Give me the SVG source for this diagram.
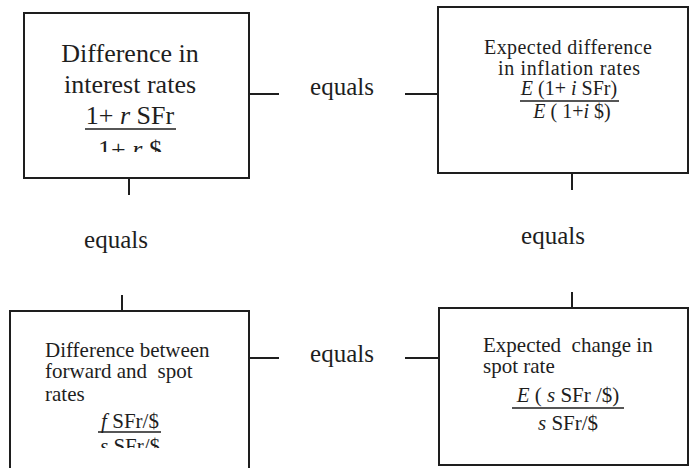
<svg xmlns="http://www.w3.org/2000/svg" width="692" height="468" viewBox="0 0 692 468">
<style>
  .box { fill: #ffffff; stroke: #1e1e1e; stroke-width: 2; }
  .ln { stroke: #1e1e1e; stroke-width: 2; fill: none; }
  .ul { stroke: #1e1e1e; stroke-width: 1.6; }
  text { font-family: "Liberation Serif", "Times New Roman", serif; fill: #1e1e1e; }
  .big { font-size: 26px; }
  .med { font-size: 21px; }
  .sm { font-size: 20px; }
  .eq { font-size: 25px; }
  .c { text-anchor: middle; }
  .it { font-style: italic; }
</style>
<defs>
  <clipPath id="clipTL"><rect x="0" y="0" width="260" height="152"/></clipPath>
  <clipPath id="clipBL"><rect x="0" y="300" width="260" height="148"/></clipPath>
</defs>
<rect width="692" height="468" fill="#ffffff"/>

<g id="connectors">
  <line class="ln" x1="249" y1="94" x2="279" y2="94"/>
  <line class="ln" x1="405" y1="94" x2="438" y2="94"/>
  <line class="ln" x1="129" y1="178" x2="129" y2="195"/>
  <line class="ln" x1="572" y1="173" x2="572" y2="190"/>
  <line class="ln" x1="122" y1="295" x2="122" y2="311"/>
  <line class="ln" x1="572" y1="292" x2="572" y2="308"/>
  <line class="ln" x1="249" y1="358" x2="279" y2="358"/>
  <line class="ln" x1="405" y1="358" x2="439" y2="358"/>
  <text class="eq" x="342" y="95" text-anchor="middle">equals</text>
  <text class="eq" x="116" y="248" text-anchor="middle">equals</text>
  <text class="eq" x="553" y="244" text-anchor="middle">equals</text>
  <text class="eq" x="342" y="362" text-anchor="middle">equals</text>
</g>

<g id="node-interest">
  <rect class="box" x="24" y="13" width="225" height="165"/>
  <text class="big c" x="130" y="62">Difference in</text>
  <text class="big c" x="130" y="93">interest rates</text>
  <text class="big c" x="130" y="124">1+ <tspan class="it">r</tspan> SFr</text>
  <line class="ul" x1="85" y1="129" x2="176" y2="129"/>
  <text class="big c" x="130" y="158" clip-path="url(#clipTL)">1+ <tspan class="it">r</tspan> $</text>
</g>

<g id="node-inflation">
  <rect class="box" x="438" y="7" width="250" height="166"/>
  <text class="sm c" x="568" y="54" textLength="168">Expected difference</text>
  <text class="sm c" x="569" y="75" textLength="142">in inflation rates</text>
  <text class="sm c" x="569" y="95"><tspan class="it">E</tspan> (1+ <tspan class="it">i</tspan> SFr)</text>
  <line class="ul" x1="520" y1="101" x2="619" y2="101"/>
  <text class="sm c" x="572" y="118"><tspan class="it">E</tspan> ( 1+<tspan class="it">i</tspan> $)</text>
</g>

<g id="node-forward">
  <rect class="box" x="10" y="311" width="239" height="170"/>
  <text class="med" x="45" y="357">Difference between</text>
  <text class="med" x="45" y="378" xml:space="preserve">forward and  spot</text>
  <text class="med" x="45" y="401">rates</text>
  <text class="med c" x="130" y="428"><tspan class="it">f</tspan> SFr/$</text>
  <line class="ul" x1="98" y1="432" x2="161" y2="432"/>
  <text class="med c" x="130" y="453" clip-path="url(#clipBL)"><tspan class="it">s</tspan> SFr/$</text>
</g>

<g id="node-spot">
  <rect class="box" x="439" y="308" width="249" height="157"/>
  <text class="med" x="483" y="352" xml:space="preserve">Expected  change in</text>
  <text class="med" x="483" y="373">spot rate</text>
  <text class="med c" x="568" y="402"><tspan class="it">E</tspan> ( <tspan class="it">s</tspan> SFr /$)</text>
  <line class="ul" x1="512" y1="408" x2="624" y2="408"/>
  <text class="med c" x="568" y="430"><tspan class="it">s</tspan> SFr/$</text>
</g>
</svg>
